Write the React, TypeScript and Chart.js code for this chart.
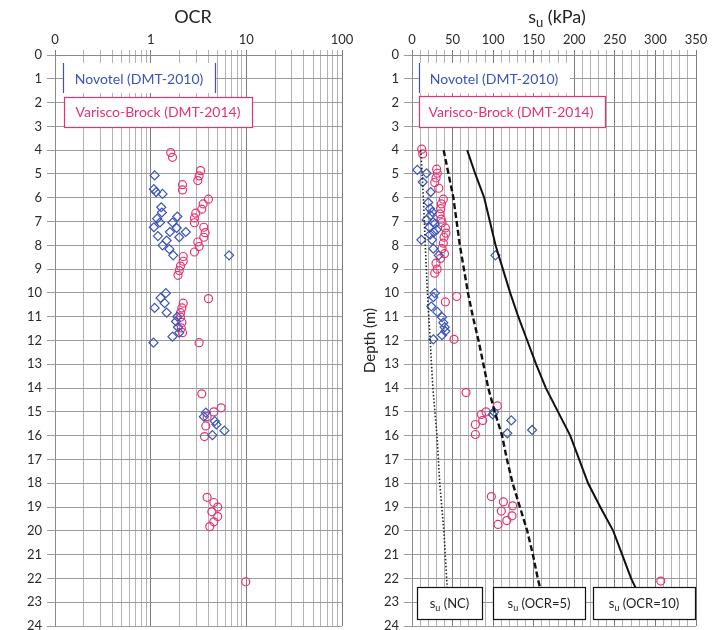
import React, { useEffect, useRef } from "react";
import { Chart, registerables } from "chart.js";

Chart.register(...registerables);

const FONT = "Lato, 'Liberation Sans', sans-serif";
const BLUE = "rgb(58,84,186)";
const PINK = "rgb(232,50,112)";
const TEXT = "#2a2a2a";

// ---------- data ----------
const depthMin = 0;
const depthMax = 24;

const ocrGridValues = [
  0.1, 0.2, 0.3, 0.4, 0.5, 0.6, 0.7, 0.8, 0.9,
  1, 2, 3, 4, 5, 6, 7, 8, 9,
  10, 20, 30, 40, 50, 60, 70, 80, 90, 100,
];
const ocrTickValues = [0.1, 1, 10, 100];
const ocrTickLabels = ["0", "1", "10", "100"];

const novotelOcrDepth = [
  5.06, 5.64, 5.76, 5.84, 6.4, 6.62, 6.88, 6.79, 7.04, 7.04, 7.24, 7.27, 7.44, 7.44,
  7.61, 7.66, 7.8, 8.0, 8.16, 8.42, 8.42, 10.01, 10.21, 10.43, 10.63, 10.83, 11.0,
  11.2, 11.44, 11.67, 11.84, 12.09, 15.03, 15.2, 15.39, 15.53, 15.79, 15.98,
];
const novotelOcr = [
  1.1, 1.08, 1.14, 1.33, 1.29, 1.31, 1.17, 1.9, 1.69, 1.25, 1.08, 1.87, 1.59, 2.33,
  1.19, 1.99, 1.47, 1.33, 1.57, 1.72, 6.6, 1.44, 1.27, 1.4, 1.1, 1.47, 1.9,
  1.84, 1.93, 1.99, 1.69, 1.07, 3.77, 3.6, 4.68, 4.87, 5.9, 4.42,
];

const variscoOcrDepth = [
  4.1, 4.3, 4.86, 5.08, 5.28, 5.45, 5.67, 6.06, 6.26, 6.48, 6.65, 6.85, 7.05, 7.24,
  7.47, 7.66, 7.86, 8.05, 8.28, 8.47, 8.67, 8.87, 9.06, 9.26, 10.24, 10.43, 10.63,
  10.83, 11.02, 11.24, 11.47, 11.67, 12.09, 14.24, 14.83, 15.0, 15.2, 15.59, 16.04,
  18.59, 18.81, 19.0, 19.2, 19.4, 19.62, 19.82, 22.14,
];
const variscoOcr = [
  1.62, 1.69, 3.32, 3.21, 3.11, 2.15, 2.15, 4.02, 3.54, 3.42, 2.96, 2.87, 2.87, 3.59,
  3.71, 3.59, 3.11, 3.21, 2.87, 2.19, 2.19, 2.05, 1.99, 1.93, 4.02, 2.19, 2.12,
  2.05, 2.05, 2.12, 2.09, 2.15, 3.21, 3.42, 5.45, 4.57, 3.89, 3.77, 3.65,
  3.89, 4.57, 5.02, 4.36, 5.02, 4.57, 4.15, 9.85,
];

const novotelSuDepth = [
  4.83, 4.97, 5.34, 5.76, 6.2, 6.46, 6.6, 6.74, 6.93, 7.02, 7.1, 7.24, 7.35, 7.45, 7.55,
  7.77, 7.77, 8.14, 8.42, 8.42, 10.01, 10.18, 10.57, 10.8, 11.02, 11.25, 11.44, 11.61,
  11.78, 11.95, 15.0, 15.11, 15.36, 15.9, 15.76,
];
const novotelSu = [
  6.6, 18, 13.2, 23, 20, 22.2, 25, 23, 18, 26.3, 28, 21.4, 30.4, 27, 22.2,
  11.5, 24.7, 26.3, 32.9, 102.8, 28, 26.3, 23.8, 31.2, 37, 38.6, 40.3, 41.1,
  37, 26.3, 101.1, 99.5, 122.4, 117.5, 148,
];

const variscoSuDepth = [
  3.96, 4.16, 4.8, 4.97, 5.17, 5.36, 5.6, 6.06, 6.26, 6.46, 6.68, 6.9, 7.05, 7.27, 7.49,
  7.66, 7.91, 8.14, 8.35, 8.55, 8.75, 9.0, 9.17, 10.15, 10.38, 11.95,
  14.19, 14.75, 15.0, 15.11, 15.36, 15.53, 15.95,
  18.56, 18.78, 18.95, 19.17, 19.37, 19.57, 19.73, 22.11,
];
const variscoSu = [
  12, 13.2, 30.4, 31.2, 29.6, 28, 33, 38.6, 36.2, 35.4, 34.5, 36, 37, 41.1, 41.9,
  39.5, 38.6, 37, 40, 35, 29.6, 31, 28, 55.1, 41.1, 51.8,
  66.6, 105.2, 91.2, 85.5, 87.2, 78.1, 78.1,
  97.8, 112.6, 124.1, 110.1, 123.3, 116.8, 106, 306.6,
];

const lineDepth = [4, 5, 6, 7, 8, 9, 10, 11, 12, 13, 14, 15, 16, 17, 18, 19, 20, 21, 22, 22.7];
const suNC = [10.8, 12.4, 14, 15.2, 16.3, 17.7, 19, 20.7, 22.5, 24, 25.8, 28.2, 30.8, 32.5, 34.2, 36.7, 39.3, 41, 42.7, 44];
const suOCR5 = [39, 45, 51, 55, 59, 64, 69, 75, 82, 88, 94, 102, 111, 117, 124, 133, 142, 149, 155, 160];
const suOCR10 = [68, 78, 89, 96, 103, 112, 121, 131, 142, 153, 165, 180, 195, 206, 217, 232, 248, 259, 270, 280];

const suMax = 350;
const suLabelStep = 50;

// ---------- helpers ----------
const pts = (xs: number[], ys: number[]) => xs.map((x, i) => ({ x, y: ys[i] }));

function drawSubText(
  ctx: CanvasRenderingContext2D,
  cx: number,
  cy: number,
  main: string,
  sub: string,
  rest: string,
  size: number,
  color: string
) {
  ctx.save();
  ctx.fillStyle = color;
  ctx.textBaseline = "middle";
  ctx.textAlign = "left";
  const f1 = `${size}px ${FONT}`;
  const f2 = `${Math.round(size * 0.7)}px ${FONT}`;
  ctx.font = f1;
  const w1 = ctx.measureText(main).width;
  const w3 = ctx.measureText(rest).width;
  ctx.font = f2;
  const w2 = ctx.measureText(sub).width;
  let x = cx - (w1 + w2 + w3) / 2;
  ctx.font = f1;
  ctx.fillText(main, x, cy);
  x += w1;
  ctx.font = f2;
  ctx.fillText(sub, x, cy + size * 0.3);
  x += w2;
  ctx.font = f1;
  ctx.fillText(rest, x, cy);
  ctx.restore();
}

function centerText(ctx: CanvasRenderingContext2D, t: string, x: number, y: number, size: number, color: string) {
  ctx.save();
  ctx.font = `${size}px ${FONT}`;
  ctx.fillStyle = color;
  ctx.textAlign = "center";
  ctx.textBaseline = "middle";
  ctx.fillText(t, x, y);
  ctx.restore();
}

const leftOverlay = {
  id: "leftOverlay",
  afterDraw(chart: any) {
    const ctx: CanvasRenderingContext2D = chart.ctx;
    centerText(ctx, "OCR", 193, 17, 18, "#222");
    ctx.save();
    ctx.fillStyle = "#fff";
    ctx.fillRect(63, 63, 152, 30);
    ctx.strokeStyle = BLUE;
    ctx.lineWidth = 1.2;
    ctx.beginPath();
    ctx.moveTo(63.5, 63);
    ctx.lineTo(63.5, 93);
    ctx.moveTo(215.5, 63);
    ctx.lineTo(215.5, 93);
    ctx.stroke();
    ctx.fillStyle = "#fff";
    ctx.fillRect(64, 97, 188, 30);
    ctx.strokeStyle = PINK;
    ctx.strokeRect(64.5, 97.5, 188, 30);
    ctx.restore();
    centerText(ctx, "Novotel (DMT-2010)", 139, 79, 14, BLUE);
    centerText(ctx, "Varisco-Brock (DMT-2014)", 158, 112, 14, PINK);
  },
};

const RX = 361;
const rightOverlay = {
  id: "rightOverlay",
  afterDraw(chart: any) {
    const ctx: CanvasRenderingContext2D = chart.ctx;
    drawSubText(ctx, 557 - RX, 17, "s", "u", " (kPa)", 18, "#222");
    ctx.save();
    ctx.fillStyle = "#fff";
    ctx.fillRect(419 - RX, 63, 151, 30);
    ctx.strokeStyle = BLUE;
    ctx.lineWidth = 1.2;
    ctx.beginPath();
    ctx.moveTo(419.5 - RX, 63);
    ctx.lineTo(419.5 - RX, 93);
    ctx.stroke();
    ctx.fillStyle = "#fff";
    ctx.fillRect(419 - RX, 96, 186, 31);
    ctx.strokeStyle = PINK;
    ctx.strokeRect(419.5 - RX, 96.5, 186, 31);
    ctx.restore();
    centerText(ctx, "Novotel (DMT-2010)", 494 - RX, 79, 14, BLUE);
    centerText(ctx, "Varisco-Brock (DMT-2014)", 511 - RX, 112, 14, PINK);

    const boxes: [number, number, string][] = [
      [417, 482, "NC"],
      [493, 585, "OCR=5"],
      [593, 695, "OCR=10"],
    ];
    boxes.forEach(([x0, x1, t]) => {
      ctx.save();
      ctx.fillStyle = "#fff";
      ctx.fillRect(x0 - RX, 587, x1 - x0, 32);
      ctx.strokeStyle = "#111";
      ctx.lineWidth = 1.2;
      ctx.strokeRect(x0 - RX + 0.5, 587.5, x1 - x0, 32);
      ctx.restore();
      drawSubText(ctx, (x0 + x1) / 2 - RX, 604, "s", "u", ` (${t})`, 13, "#222");
    });
  },
};

export default function App() {
  const leftRef = useRef<HTMLCanvasElement | null>(null);
  const rightRef = useRef<HTMLCanvasElement | null>(null);

  useEffect(() => {
    const tickFont = { family: FONT, size: 13 };
    const depthAxis = (width: number, title: boolean) => ({
      type: "linear" as const,
      reverse: true,
      min: depthMin,
      max: depthMax,
      afterFit: (s: any) => {
        s.width = width;
      },
      title: title
        ? { display: true, text: "Depth (m)", font: { family: FONT, size: 15 }, color: "#222", padding: 0 }
        : { display: false },
      ticks: { stepSize: 1, autoSkip: false, font: tickFont, color: TEXT, padding: 5 },
      grid: { color: "#9c9c9c", tickLength: 8, lineWidth: 1 },
      border: { color: "#8a8a8a" },
    });

    const left = new Chart(leftRef.current!, {
      type: "scatter",
      data: {
        datasets: [
          {
            label: "Novotel (DMT-2010)",
            data: pts(novotelOcr, novotelOcrDepth),
            pointStyle: "rectRot",
            pointRadius: 4.5,
            borderColor: BLUE,
            backgroundColor: "rgba(255,255,255,0)",
            borderWidth: 1.2,
          },
          {
            label: "Varisco-Brock (DMT-2014)",
            data: pts(variscoOcr, variscoOcrDepth),
            pointStyle: "circle",
            pointRadius: 4,
            borderColor: PINK,
            backgroundColor: "rgba(255,255,255,0)",
            borderWidth: 1.2,
          },
        ],
      },
      options: {
        animation: false,
        responsive: false,
        maintainAspectRatio: false,
        layout: { padding: { left: 0, right: 19, top: 0, bottom: 14 } },
        plugins: { legend: { display: false }, tooltip: { enabled: false } },
        scales: {
          x: {
            type: "logarithmic",
            position: "top",
            min: 0.1,
            max: 100,
            afterBuildTicks: (s: any) => {
              s.ticks = ocrGridValues.map((v) => ({ value: v }));
            },
            afterFit: (s: any) => {
              s.height = 55;
            },
            ticks: {
              autoSkip: false,
              maxRotation: 0,
              font: tickFont,
              color: TEXT,
              padding: 2,
              callback: (v: any) => {
                const i = ocrTickValues.findIndex((t) => Math.abs(t - Number(v)) < 1e-9);
                return i >= 0 ? ocrTickLabels[i] : "";
              },
            },
            grid: {
              tickLength: 5,
              color: (c: any) => {
                const v = c.tick ? c.tick.value : 1;
                const l = Math.log10(v);
                return Math.abs(l - Math.round(l)) < 1e-9 ? "#7c7c7c" : "#b2b2b2";
              },
            },
            border: { color: "#8a8a8a" },
          },
          y: depthAxis(55, false),
        },
      } as any,
      plugins: [leftOverlay],
    });

    const right = new Chart(rightRef.current!, {
      type: "scatter",
      data: {
        datasets: [
          {
            label: "su (NC)",
            data: pts(suNC, lineDepth),
            showLine: true,
            pointRadius: 0,
            borderColor: "#222",
            borderWidth: 1.6,
            borderDash: [1.5, 2],
            fill: false,
          },
          {
            label: "su (OCR=5)",
            data: pts(suOCR5, lineDepth),
            showLine: true,
            pointRadius: 0,
            borderColor: "#111",
            borderWidth: 2.4,
            borderDash: [6, 3],
            fill: false,
          },
          {
            label: "su (OCR=10)",
            data: pts(suOCR10, lineDepth),
            showLine: true,
            pointRadius: 0,
            borderColor: "#111",
            borderWidth: 2,
            fill: false,
          },
          {
            label: "Novotel (DMT-2010)",
            data: pts(novotelSu, novotelSuDepth),
            pointStyle: "rectRot",
            pointRadius: 4.5,
            borderColor: BLUE,
            backgroundColor: "rgba(255,255,255,0)",
            borderWidth: 1.2,
          },
          {
            label: "Varisco-Brock (DMT-2014)",
            data: pts(variscoSu, variscoSuDepth),
            pointStyle: "circle",
            pointRadius: 4,
            borderColor: PINK,
            backgroundColor: "rgba(255,255,255,0)",
            borderWidth: 1.2,
          },
        ],
      },
      options: {
        animation: false,
        responsive: false,
        maintainAspectRatio: false,
        layout: { padding: { left: 0, right: 26, top: 0, bottom: 14 } },
        plugins: { legend: { display: false }, tooltip: { enabled: false } },
        scales: {
          x: {
            type: "linear",
            position: "top",
            min: 0,
            max: suMax,
            afterFit: (s: any) => {
              s.height = 55;
            },
            ticks: {
              stepSize: 10,
              autoSkip: false,
              maxRotation: 0,
              font: tickFont,
              color: TEXT,
              padding: 2,
              callback: (v: any) => (Number(v) % suLabelStep === 0 ? String(v) : ""),
            },
            grid: {
              tickLength: 5,
              color: (c: any) => {
                const v = c.tick ? c.tick.value : 0;
                return v % suLabelStep === 0 ? "#7c7c7c" : "#b2b2b2";
              },
            },
            border: { color: "#8a8a8a" },
          },
          y: depthAxis(51, true),
        },
      } as any,
      plugins: [rightOverlay],
    });

    return () => {
      left.destroy();
      right.destroy();
    };
  }, []);

  return (
    <div
      style={{
        position: "fixed",
        left: 0,
        top: 0,
        width: 722,
        height: 630,
        overflow: "hidden",
        background: "#fff",
      }}
    >
      <canvas ref={leftRef} width={361} height={640} style={{ position: "absolute", left: 0, top: 0 }} />
      <canvas ref={rightRef} width={361} height={640} style={{ position: "absolute", left: RX, top: 0 }} />
    </div>
  );
}
